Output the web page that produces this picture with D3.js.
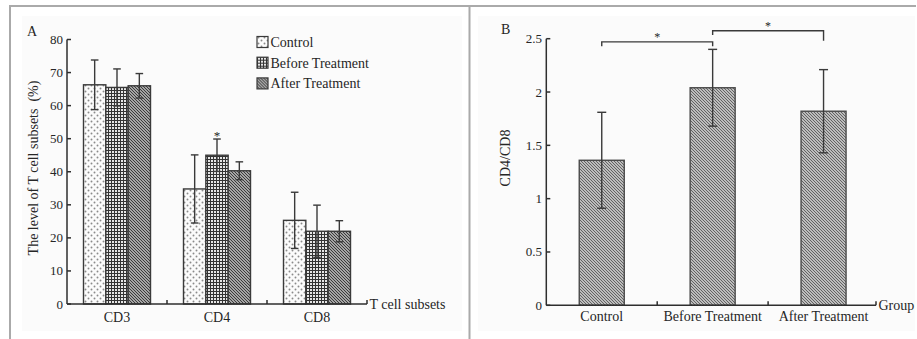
<!DOCTYPE html>
<html><head><meta charset="utf-8">
<script src="https://cdn.jsdelivr.net/npm/d3@7"></script>
<style>
html,body{margin:0;padding:0;background:#fff;}
svg text{font-family:"Liberation Serif","Times New Roman",serif;fill:#262626;}
</style></head>
<body>
<svg id="c" width="917" height="339"></svg>
<script>
// ---- Panel A data ----
const subsets = ["CD3", "CD4", "CD8"];
const groupsA = ["Control", "Before Treatment", "After Treatment"];
const controlMean = [66.3, 34.8, 25.3];
const controlSD   = [7.5, 10.3, 8.5];
const beforeMean  = [65.5, 45.0, 22.0];
const beforeSD    = [5.6, 4.9, 7.9];
const afterMean   = [66.0, 40.3, 22.0];
const afterSD     = [3.7, 2.7, 3.2];
const yTicksA = [0, 10, 20, 30, 40, 50, 60, 70, 80];
const starA = [{subset: "CD4", group: "Before Treatment", label: "*"}];

// ---- Panel B data ----
const groupsB = ["Control", "Before Treatment", "After Treatment"];
const ratioMean = [1.36, 2.04, 1.82];
const ratioSD   = [0.45, 0.36, 0.39];
const yTicksB = [0, 0.5, 1, 1.5, 2, 2.5];
const yTickLabelsB = ["0", "0.5", "1", "1.5", "2", "2.5"];
const comparisonsB = [
  {from: 0, to: 1, level: 2.47, legFrom: 2.43, legTo: 2.43, label: "*"},
  {from: 1, to: 2, level: 2.574, legFrom: 2.535, legTo: 2.48, label: "*"}
];

const svg = d3.select("#c");
const ink = "#2e2e2e";
const FS = 14, TFS = 13;

// patterns
const defs = svg.append("defs");
const pDots = defs.append("pattern").attr("id","dots").attr("patternUnits","userSpaceOnUse").attr("width",6).attr("height",6);
pDots.append("rect").attr("width",6).attr("height",6).attr("fill","#fbfbfb");
pDots.append("circle").attr("cx",1.5).attr("cy",1.5).attr("r",0.95).attr("fill","#8a8a8a");
pDots.append("circle").attr("cx",4.5).attr("cy",4.5).attr("r",0.95).attr("fill","#8a8a8a");
const pGrid = defs.append("pattern").attr("id","grid").attr("patternUnits","userSpaceOnUse").attr("width",3).attr("height",3);
pGrid.append("rect").attr("width",3).attr("height",3).attr("fill","#e6e6e6");
pGrid.append("rect").attr("width",3).attr("height",1).attr("fill","#333");
pGrid.append("rect").attr("width",1).attr("height",3).attr("fill","#333");
const pDiag = defs.append("pattern").attr("id","diag").attr("patternUnits","userSpaceOnUse").attr("width",3).attr("height",3);
pDiag.append("rect").attr("width",3).attr("height",3).attr("fill","#d0d0d0");
pDiag.append("path").attr("d","M-1,-1L4,4M-1,2L1,4M2,-1L4,1").attr("stroke","#333").attr("stroke-width",1.05);
const pDiagB = defs.append("pattern").attr("id","diagB").attr("patternUnits","userSpaceOnUse").attr("width",3).attr("height",3);
pDiagB.append("rect").attr("width",3).attr("height",3).attr("fill","#bdbdbd");
pDiagB.append("path").attr("d","M-1,-1L4,4M-1,2L1,4M2,-1L4,1").attr("stroke","#5e5e5e").attr("stroke-width",0.95);

const fillA = {"Control":"url(#dots)","Before Treatment":"url(#grid)","After Treatment":"url(#diag)"};

// frame
svg.append("rect").attr("x",22).attr("y",16).attr("width",440).attr("height",315).attr("fill","#fbfbfb");
svg.append("rect").attr("x",478).attr("y",16).attr("width",437).attr("height",315).attr("fill","#fbfbfb");
const frame = svg.append("g").attr("stroke","#aaa").attr("stroke-width",2).attr("fill","none");
frame.append("line").attr("x1",9).attr("x2",916).attr("y1",6).attr("y2",6);
frame.append("line").attr("x1",10).attr("x2",10).attr("y1",6).attr("y2",339);
frame.append("line").attr("x1",469.5).attr("x2",469.5).attr("y1",6).attr("y2",339);

// ================= Panel A =================
const yA = d3.scaleLinear().domain([0,80]).range([304,39.5]);
const xA = d3.scaleBand().domain(subsets).range([67,367]);
const xA1 = d3.scaleBand().domain(groupsA).range([16.5,83.5]);

const rowsA = [];
subsets.forEach((s,i)=>{
  rowsA.push({s, g:"Control", m:controlMean[i], sd:controlSD[i]});
  rowsA.push({s, g:"Before Treatment", m:beforeMean[i], sd:beforeSD[i]});
  rowsA.push({s, g:"After Treatment", m:afterMean[i], sd:afterSD[i]});
});
const cA = d=>xA(d.s)+xA1(d.g)+xA1.bandwidth()/2;

const gA = svg.append("g");
gA.selectAll("rect.bar").data(rowsA).join("rect").attr("class","bar")
  .attr("x",d=>xA(d.s)+xA1(d.g)).attr("width",xA1.bandwidth())
  .attr("y",d=>yA(d.m)).attr("height",d=>yA(0)-yA(d.m))
  .attr("fill",d=>fillA[d.g]).attr("stroke","#3a3a3a").attr("stroke-width",1.4);

const errA = gA.selectAll("g.err").data(rowsA).join("g").attr("class","err")
  .attr("stroke","#3a3a3a").attr("stroke-width",1.4);
errA.append("line").attr("x1",cA).attr("x2",cA)
  .attr("y1",d=>yA(d.m+d.sd)).attr("y2",d=>yA(d.m-d.sd));
errA.append("line").attr("x1",d=>cA(d)-3.8).attr("x2",d=>cA(d)+3.8)
  .attr("y1",d=>yA(d.m+d.sd)).attr("y2",d=>yA(d.m+d.sd));
errA.append("line").attr("x1",d=>cA(d)-3.8).attr("x2",d=>cA(d)+3.8)
  .attr("y1",d=>yA(d.m-d.sd)).attr("y2",d=>yA(d.m-d.sd));

starA.forEach(st=>{
  const r = rowsA.find(d=>d.s===st.subset && d.g===st.group);
  gA.append("text").attr("x",cA(r)).attr("y",yA(r.m+r.sd)+1)
    .attr("text-anchor","middle").attr("font-size",13).text(st.label);
});

// axes A
const axA = gA.append("g").attr("stroke",ink).attr("stroke-width",1.5);
axA.append("line").attr("x1",67).attr("x2",67).attr("y1",yA(80)).attr("y2",yA(0));
axA.append("line").attr("x1",67).attr("x2",367).attr("y1",yA(0)).attr("y2",yA(0));
axA.selectAll("line.yt").data(yTicksA).join("line").attr("class","yt")
  .attr("x1",67).attr("x2",71).attr("y1",d=>yA(d)).attr("y2",d=>yA(d));
axA.selectAll("line.xt").data(subsets.slice(1).concat(["end"])).join("line").attr("class","xt")
  .attr("x1",d=>d==="end"?367:xA(d)).attr("x2",d=>d==="end"?367:xA(d))
  .attr("y1",yA(0)).attr("y2",yA(0)-4);
gA.selectAll("text.yl").data(yTicksA).join("text").attr("class","yl")
  .attr("x",63).attr("y",d=>yA(d)+4.5).attr("text-anchor","end").attr("font-size",TFS).text(d=>d);
gA.selectAll("text.xl").data(subsets).join("text").attr("class","xl")
  .attr("x",d=>xA(d)+xA.bandwidth()/2).attr("y",322).attr("text-anchor","middle").attr("font-size",FS).text(d=>d);
gA.append("text").attr("x",369.5).attr("y",309).attr("font-size",FS).text("T cell subsets");
gA.append("text").attr("transform","translate(38,168) rotate(-90)").attr("text-anchor","middle")
  .attr("font-size",FS).text("The level of T cell subsets\u00a0\u00a0(%)");
gA.append("text").attr("x",27).attr("y",36).attr("font-size",FS).text("A");

// legend A
const lg = gA.selectAll("g.lg").data(groupsA).join("g").attr("class","lg")
  .attr("transform",(d,i)=>`translate(257,${42+i*20.7})`);
lg.append("rect").attr("x",0).attr("y",-5.5).attr("width",11).attr("height",11)
  .attr("fill",d=>fillA[d]).attr("stroke","#3a3a3a").attr("stroke-width",1.2);
lg.append("text").attr("x",13.5).attr("y",5).attr("font-size",FS).text(d=>d);

// ================= Panel B =================
const yB = d3.scaleLinear().domain([0,2.5]).range([305.3,38.7]);
const xBstep = d3.scaleBand().domain(groupsB).range([546.3,879]);
const gB = svg.append("g");
const rowsB = groupsB.map((g,i)=>({g, m:ratioMean[i], sd:ratioSD[i]}));
const cB = d=>xBstep(d.g)+xBstep.bandwidth()/2;

gB.selectAll("rect.bar").data(rowsB).join("rect").attr("class","bar")
  .attr("x",d=>cB(d)-22.5).attr("width",45)
  .attr("y",d=>yB(d.m)).attr("height",d=>yB(0)-yB(d.m))
  .attr("fill","url(#diagB)").attr("stroke","#4a4a4a").attr("stroke-width",1.4);
const errB = gB.selectAll("g.err").data(rowsB).join("g").attr("class","err").attr("stroke","#3a3a3a").attr("stroke-width",1.4);
errB.append("line").attr("x1",cB).attr("x2",cB).attr("y1",d=>yB(d.m+d.sd)).attr("y2",d=>yB(d.m-d.sd));
errB.append("line").attr("x1",d=>cB(d)-4.5).attr("x2",d=>cB(d)+4.5).attr("y1",d=>yB(d.m+d.sd)).attr("y2",d=>yB(d.m+d.sd));
errB.append("line").attr("x1",d=>cB(d)-4.5).attr("x2",d=>cB(d)+4.5).attr("y1",d=>yB(d.m-d.sd)).attr("y2",d=>yB(d.m-d.sd));

// brackets
comparisonsB.forEach(c=>{
  const x1 = cB(rowsB[c.from]), x2 = cB(rowsB[c.to]);
  gB.append("path").attr("fill","none").attr("stroke","#3a3a3a").attr("stroke-width",1.4)
    .attr("d",`M${x1},${yB(c.legFrom)}L${x1},${yB(c.level)}L${x2},${yB(c.level)}L${x2},${yB(c.legTo)}`);
  gB.append("text").attr("x",(x1+x2)/2).attr("y",yB(c.level)-1).attr("text-anchor","middle")
    .attr("font-size",12).text(c.label);
});

const axB = gB.append("g").attr("stroke",ink).attr("stroke-width",1.5);
axB.append("line").attr("x1",546.3).attr("x2",546.3).attr("y1",yB(2.5)).attr("y2",yB(0));
axB.append("line").attr("x1",546.3).attr("x2",876).attr("y1",yB(0)).attr("y2",yB(0));
axB.selectAll("line.yt").data(yTicksB).join("line").attr("class","yt")
  .attr("x1",546.3).attr("x2",550.3).attr("y1",d=>yB(d)).attr("y2",d=>yB(d));
axB.selectAll("line.xt").data(groupsB.slice(1)).join("line").attr("class","xt")
  .attr("x1",d=>xBstep(d)).attr("x2",d=>xBstep(d)).attr("y1",yB(0)).attr("y2",yB(0)-4);
axB.append("line").attr("x1",876).attr("x2",876).attr("y1",yB(0)).attr("y2",yB(0)-4);
gB.selectAll("text.yl").data(yTicksB).join("text").attr("class","yl")
  .attr("x",542).attr("y",d=>yB(d)+4.5).attr("text-anchor","end").attr("font-size",TFS).text((d,i)=>yTickLabelsB[i]);
gB.selectAll("text.xl").data(groupsB).join("text").attr("class","xl")
  .attr("x",g=>xBstep(g)+xBstep.bandwidth()/2).attr("y",321).attr("text-anchor","middle").attr("font-size",FS).text(d=>d);
gB.append("text").attr("x",878.5).attr("y",309.5).attr("font-size",FS).text("Group");
gB.append("text").attr("transform","translate(510,158) rotate(-90)").attr("text-anchor","middle")
  .attr("font-size",FS).text("CD4/CD8");
gB.append("text").attr("x",501).attr("y",34).attr("font-size",FS).text("B");
</script>
</body></html>
